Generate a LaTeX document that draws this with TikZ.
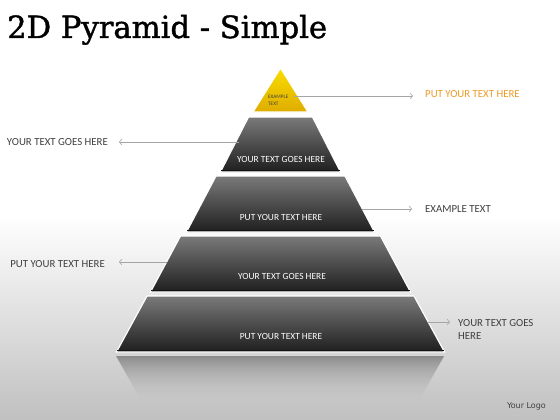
\documentclass[tikz,border=0pt]{standalone}
\usepackage{fontspec}
\setmainfont{Carlito}
\newfontfamily\titlefont[FakeBold=1.3]{DejaVu Serif}
\newfontfamily\logofont{DejaVu Sans}
\usetikzlibrary{arrows.meta,fadings}
\definecolor{tiertop}{RGB}{122,122,122}
\definecolor{tiermid}{RGB}{62,62,62}
\definecolor{tierbot}{RGB}{30,30,30}
\definecolor{goldtop}{RGB}{250,222,0}
\definecolor{goldbot}{RGB}{222,172,0}
\definecolor{labelgray}{RGB}{64,64,64}
\definecolor{orangetxt}{RGB}{236,156,40}
\definecolor{conngray}{RGB}{165,165,165}
\definecolor{bgbot}{RGB}{192,192,192}
\definecolor{reflect}{RGB}{140,140,140}
\tikzset{
  tierbox/.style={top color=tiertop, middle color=tiermid, bottom color=tierbot, draw=white, line width=1.2pt},
  goldbox/.style={top color=goldtop, bottom color=goldbot, draw=white, line width=1.2pt},
  conn/.style={draw=conngray, line width=0.6pt, -{Straight Barb[length=2.6pt,width=6pt,line width=0.6pt]}},
  outlabel/.style={font=\fontsize{10.8}{12.6}\selectfont, text=labelgray, inner sep=0pt},
  inlabel/.style={font=\fontsize{9.4}{11}\selectfont, text=white, inner sep=0pt, anchor=base},
}
\newcommand\pyrtier[5]{%
  \path[tierbox] ({280.5-#4},#2) -- ({280.5+#4},#2) -- ({280.5+#5},#3) -- ({280.5-#5},#3) -- cycle;
  \draw[tierbot!60!black, line width=1pt] ({280.5-#5+0.8},{#3-1.2}) -- ({280.5+#5-0.8},{#3-1.2});
}
\begin{document}
\begin{tikzpicture}[x=1pt,y=-1pt]
\useasboundingbox (0,0) rectangle (560,420);
% background
\fill[white] (0,0) rectangle (560,420);
\shade[top color=white, bottom color=bgbot] (0,215) rectangle (560,420);
% reflection
\shade[top color=reflect, bottom color=bgbot, path fading=south] (116,356) -- (444,356) -- (418,402) -- (142,402) -- cycle;
% title
\node[anchor=base west, inner sep=0pt, font=\titlefont\fontsize{30.6}{34}\selectfont] (title) at (7,38) {2D Pyramid - Simple};
% pyramid
\path[goldbox] (280.5,68) -- (308,112) -- (253,112) -- cycle;
\pyrtier{t2}{117}{172}{32}{60}
\pyrtier{t3}{176}{232}{64.5}{94}
\pyrtier{t4}{236}{292}{100}{130}
\pyrtier{t5}{296}{352}{133.5}{164}
% tier labels
\node[inner sep=0pt, anchor=base west, align=left, font=\fontsize{5.2}{7}\selectfont, text=labelgray] (l1) at (268,105.5) {EXAMPLE\\TEXT};
\node[inlabel] (l2) at (281,162.5) {YOUR TEXT GOES HERE};
\node[inlabel] (l3) at (281,220.5) {PUT YOUR TEXT HERE};
\node[inlabel] (l4) at (282,279.5) {YOUR TEXT GOES HERE};
\node[inlabel] (l5) at (281,339.5) {PUT YOUR TEXT HERE};
% outside labels
\node[outlabel, anchor=base west, text=orangetxt] (o1) at (425,98) {PUT YOUR TEXT HERE};
\node[outlabel, anchor=base east] (o2) at (108,146) {YOUR TEXT GOES HERE};
\node[outlabel, anchor=base west] (o3) at (425,212) {EXAMPLE TEXT};
\node[outlabel, anchor=base east] (o4) at (105,267) {PUT YOUR TEXT HERE};
\node[outlabel, anchor=base west, align=left] (o5) at (458,339) {YOUR TEXT GOES\\HERE};
% connector endpoints
\coordinate (s1) at (294,96);   \coordinate (e1) at (413,96);
\coordinate (s2) at (239,142);  \coordinate (e2) at (119,142);
\coordinate (s3) at (362,209);  \coordinate (e3) at (412,209);
\coordinate (s4) at (167,262);  \coordinate (e4) at (119,262);
\coordinate (s5) at (428,322);  \coordinate (e5) at (450,322);
\draw[conn] (s1) -- (e1);
\draw[conn] (s2) -- (e2);
\draw[conn] (s3) -- (e3);
\draw[conn] (s4) -- (e4);
\draw[conn] (s5) -- (e5);
% logo
\node[anchor=base east, inner sep=0pt, font=\logofont\fontsize{8}{9}\selectfont, text=labelgray] (logo) at (546,408) {Your Logo};
\end{tikzpicture}
\end{document}
